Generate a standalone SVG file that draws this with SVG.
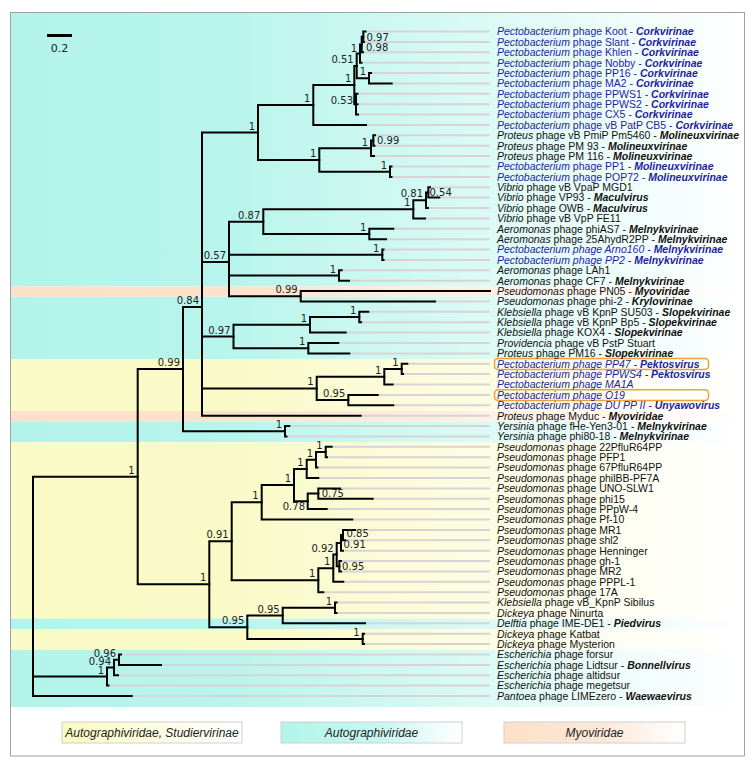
<svg xmlns="http://www.w3.org/2000/svg" width="755" height="768" viewBox="0 0 755 768">
<style>
.br{fill:none;stroke:#000;stroke-width:2;stroke-linecap:square}
.gd{fill:none;stroke:#d8d4d4;stroke-width:2}
.sup{font-family:"DejaVu Sans",sans-serif;font-size:10px;fill:#222;text-anchor:end}
.sup.r{text-anchor:start}
.lf{font-family:"Liberation Sans",Arial,sans-serif;font-size:10.5px;fill:#111}
.lf.b{fill:#1f1fa0}
.i{font-style:italic}
.t{font-style:italic;font-weight:bold}
.lg{font-family:"Liberation Sans",Arial,sans-serif;font-size:12px;font-style:italic;fill:#222;text-anchor:middle}
.hl{fill:none;stroke:#f0a040;stroke-width:1.5}
.lb{stroke:#d0d0d0;stroke-width:1}
</style>
<defs>
<linearGradient id="gc" gradientUnits="userSpaceOnUse" x1="11" y1="0" x2="742" y2="0"><stop offset="0" stop-color="#b3f4ea"/><stop offset="0.3" stop-color="#b8f5ec"/><stop offset="1" stop-color="#ffffff"/></linearGradient>
<linearGradient id="gy" gradientUnits="userSpaceOnUse" x1="11" y1="0" x2="742" y2="0"><stop offset="0" stop-color="#fafac6"/><stop offset="0.3" stop-color="#fafac8"/><stop offset="1" stop-color="#ffffff"/></linearGradient>
<linearGradient id="gp" gradientUnits="userSpaceOnUse" x1="11" y1="0" x2="742" y2="0"><stop offset="0" stop-color="#fde0c8"/><stop offset="0.3" stop-color="#fde2cb"/><stop offset="1" stop-color="#ffffff"/></linearGradient>
<linearGradient id="ly" x1="0" y1="0" x2="1" y2="0"><stop offset="0" stop-color="#fafac0"/><stop offset="0.35" stop-color="#fcfcd8"/><stop offset="1" stop-color="#ffffff"/></linearGradient>
<linearGradient id="lc" x1="0" y1="0" x2="1" y2="0"><stop offset="0" stop-color="#b3f4ea"/><stop offset="0.55" stop-color="#c8f7f0"/><stop offset="1" stop-color="#ffffff"/></linearGradient>
<linearGradient id="lp" x1="0" y1="0" x2="1" y2="0"><stop offset="0" stop-color="#fde0c8"/><stop offset="0.55" stop-color="#fde8d8"/><stop offset="1" stop-color="#ffffff"/></linearGradient>
</defs>
<rect x="0" y="0" width="755" height="768" fill="#fff"/>
<rect x="10.5" y="12.5" width="734" height="743.5" fill="#fff" stroke="#a0a0a0" stroke-width="1"/>
<g id="bands">
<rect x="11" y="13" width="731" height="273.4" fill="url(#gc)"/>
<rect x="11" y="286.4" width="731" height="10.4" fill="url(#gp)"/>
<rect x="11" y="296.8" width="731" height="62.3" fill="url(#gc)"/>
<rect x="11" y="359.1" width="731" height="51.9" fill="url(#gy)"/>
<rect x="11" y="411" width="731" height="10.4" fill="url(#gp)"/>
<rect x="11" y="421.4" width="731" height="20.7" fill="url(#gc)"/>
<rect x="11" y="442.1" width="731" height="176.5" fill="url(#gy)"/>
<rect x="11" y="618.6" width="731" height="10.4" fill="url(#gc)"/>
<rect x="11" y="629" width="731" height="20.8" fill="url(#gy)"/>
<rect x="11" y="649.8" width="731" height="57.2" fill="url(#gc)"/>
</g>
<g id="scale">
<line x1="47" y1="35.5" x2="72" y2="35.5" stroke="#000" stroke-width="3"/>
<text x="59.5" y="52" style="font-family:'DejaVu Sans',sans-serif;font-size:11px;fill:#222;text-anchor:middle">0.2</text>
</g>
<g id="guides" class="gd">
<path d="M366.5 31.5H490M365 41.9H490M364 52.3H490M362.5 62.7H490M372 73H490M392.7 83.4H490M358.5 93.8H490M358.5 104.2H490M359 114.6H490M367 124.9H490M376 135.3H490M375.5 145.7H490M375 156.1H490M392.5 166.5H490M392.5 176.9H490M431 187.2H490M440.3 197.6H490M429 208H490M426 218.4H490M394.3 228.8H490M387 239.2H490M384.5 249.5H490M384.5 259.9H490M342.7 270.3H490M350 280.7H490M436 301.5H490M369.3 311.8H490M362 322.2H490M346.7 332.6H490M339.3 343H490M350.3 353.4H490M408.3 363.8H490M404 374.1H490M393.7 384.5H490M378.7 394.9H490M394.3 405.3H490M361.7 415.7H490M290.3 426.1H490M287.5 436.4H490M332.7 446.8H490M328 457.2H490M318.5 467.6H490M319.3 478H490M341 488.4H490M373.7 498.7H490M327.7 509.1H490M353.3 519.5H490M356 529.9H490M346 540.3H490M344 550.7H490M342 561H490M342 571.4H490M344.3 581.8H490M324.3 592.2H490M337.5 602.6H490M337.5 612.9H490M366 623.3H490M365 633.7H490M365 644.1H490M122 654.5H490M162 664.9H490M119 675.2H490M109.5 685.6H490M132.7 696H490"/>
</g>
<g id="connectors" class="br">
<path d="M363.3 31.5V41.9M363.3 31.5H365.5M363.3 41.9H364"/>
<path d="M361.7 36.7V52.3M361.7 36.7H363.3M361.7 52.3H363"/>
<path d="M360 44.5V62.7M360 44.5H361.7M360 62.7H361.5"/>
<path d="M369 73V83.4M369 73H371M369 83.4H391.7"/>
<path d="M356.7 53.6V78.2M356.7 53.6H360M356.7 78.2H369"/>
<path d="M356 93.8V114.6M356 93.8H357.5M356 104.2H357.5M356 114.6H358"/>
<path d="M354.3 65.9V104.2M354.3 65.9H356.7M354.3 104.2H356"/>
<path d="M313.3 85.1V124.9M313.3 85.1H354.3M313.3 124.9H366"/>
<path d="M373.3 135.3V145.7M373.3 135.3H375M373.3 145.7H374.5"/>
<path d="M371 140.5V156.1M371 140.5H373.3M371 156.1H374"/>
<path d="M390 166.5V176.9M390 166.5H391.5M390 176.9H391.5"/>
<path d="M319.3 148.3V171.7M319.3 148.3H371M319.3 171.7H390"/>
<path d="M258 105V160M258 105H313.3M258 160H319.3"/>
<path d="M428.3 187.2V197.6M428.3 187.2H430M428.3 197.6H439.3"/>
<path d="M426 192.4V208M426 192.4H428.3M426 208H428"/>
<path d="M413.3 200.2V218.4M413.3 200.2H426M413.3 218.4H425"/>
<path d="M369.3 228.8V239.2M369.3 228.8H393.3M369.3 239.2H386"/>
<path d="M263.3 209.3V234M263.3 209.3H413.3M263.3 234H369.3"/>
<path d="M382.3 249.5V259.9M382.3 249.5H383.5M382.3 259.9H383.5"/>
<path d="M339 270.3V280.7M339 270.3H341.7M339 280.7H349"/>
<path d="M300.7 291.1V301.5M300.7 291.1H490M300.7 301.5H435"/>
<path d="M229 221.7V296.3M229 221.7H263.3M229 254.7H382.3M229 275.5H339M229 296.3H300.7"/>
<path d="M359.3 311.8V322.2M359.3 311.8H368.3M359.3 322.2H361"/>
<path d="M310 317V332.6M310 317H359.3M310 332.6H345.7"/>
<path d="M308.3 343V353.4M308.3 343H338.3M308.3 353.4H349.3"/>
<path d="M233.5 324.8V348.2M233.5 324.8H310M233.5 348.2H308.3"/>
<path d="M401.7 363.8V374.1M401.7 363.8H407.3M401.7 374.1H403"/>
<path d="M384.3 369V384.5M384.3 369H401.7M384.3 384.5H392.7"/>
<path d="M348.3 394.9V405.3M348.3 394.9H377.7M348.3 405.3H393.3"/>
<path d="M316.7 376.7V400.1M316.7 376.7H384.3M316.7 400.1H348.3"/>
<path d="M202 132.5V415.7M202 132.5H258M202 262H229M202 336.5H233.5M202 388.4H316.7M202 415.7H360.7"/>
<path d="M285 426.1V436.4M285 426.1H289.3M285 436.4H286.5"/>
<path d="M183 307V431.2M183 307H202M183 431.2H285"/>
<path d="M325.7 446.8V457.2M325.7 446.8H331.7M325.7 457.2H327"/>
<path d="M316 452V467.6M316 452H325.7M316 467.6H317.5"/>
<path d="M306.7 459.8V478M306.7 459.8H316M306.7 478H318.3"/>
<path d="M318.3 488.4V498.7M318.3 488.4H340M318.3 498.7H372.7"/>
<path d="M307.7 493.6V509.1M307.7 493.6H318.3M307.7 509.1H326.7"/>
<path d="M294 468.9V501.3M294 468.9H306.7M294 501.3H307.7"/>
<path d="M261.7 485.1V519.5M261.7 485.1H294M261.7 519.5H352.3"/>
<path d="M343 529.9V540.3M343 529.9H355M343 540.3H345"/>
<path d="M341 535.1V550.7M341 535.1H343M341 550.7H343"/>
<path d="M339.3 561V571.4M339.3 561H341M339.3 571.4H341"/>
<path d="M336.7 542.9V566.2M336.7 542.9H341M336.7 566.2H339.3"/>
<path d="M333.3 554.6V581.8M333.3 554.6H336.7M333.3 581.8H343.3"/>
<path d="M318.3 568.2V592.2M318.3 568.2H333.3M318.3 592.2H323.3"/>
<path d="M231.7 502.3V580.2M231.7 502.3H261.7M231.7 580.2H318.3"/>
<path d="M335 602.6V612.9M335 602.6H336.5M335 612.9H336.5"/>
<path d="M282.7 607.8V623.3M282.7 607.8H335M282.7 623.3H365"/>
<path d="M362.7 633.7V644.1M362.7 633.7H364M362.7 644.1H364"/>
<path d="M247.3 615.5V638.9M247.3 615.5H282.7M247.3 638.9H362.7"/>
<path d="M209.3 541.3V627.2M209.3 541.3H231.7M209.3 627.2H247.3"/>
<path d="M137.7 369.1V584.2M137.7 369.1H183M137.7 584.2H209.3"/>
<path d="M119 654.5V664.9M119 654.5H121M119 664.9H161"/>
<path d="M114 659.7V675.2M114 659.7H119M114 675.2H118"/>
<path d="M107 667.5V685.6M107 667.5H114M107 685.6H108.5"/>
<path d="M33 476.7V696M33 476.7H137.7M33 676.5H107M33 696H131.7"/>
</g>
<g id="support">
<g id="n-ClA"><text class="sup" x="134.7" y="473.7">1</text></g>
<g id="n-N099"><text class="sup" x="180" y="366.1">0.99</text></g>
<g id="n-N084"><text class="sup" x="199" y="304">0.84</text></g>
<g id="n-T"><text class="sup" x="255" y="129.5">1</text></g>
<g id="n-C1"><text class="sup" x="310.3" y="102">1</text></g>
<g id="n-C2"><text class="sup" x="351.3" y="82">1</text></g>
<g id="n-A"><text class="sup" x="353.7" y="63">0.51</text></g>
<g id="n-K3"><text class="sup" x="357" y="51.5">1</text></g>
<g id="n-K2"><text class="sup r" x="366" y="50.5">0.98</text></g>
<g id="n-K1"><text class="sup r" x="366.5" y="40.5">0.97</text></g>
<g id="n-P"><text class="sup" x="366" y="75">1</text></g>
<g id="n-X"><text class="sup" x="353" y="104">0.53</text></g>
<g id="n-M"><text class="sup" x="316.3" y="157">1</text></g>
<g id="n-M3"><text class="sup" x="368" y="145.5">1</text></g>
<g id="n-M31"><text class="sup r" x="377" y="144">0.99</text></g>
<g id="n-M2"><text class="sup" x="387" y="168.7">1</text></g>
<g id="n-N057"><text class="sup" x="226" y="259">0.57</text></g>
<g id="n-N087"><text class="sup" x="260.3" y="218.7">0.87</text></g>
<g id="n-V1"><text class="sup" x="410.3" y="206.3">1</text></g>
<g id="n-V2"><text class="sup" x="423" y="197.2">0.81</text></g>
<g id="n-V3"><text class="sup r" x="429.5" y="195.5">0.54</text></g>
<g id="n-Aer"><text class="sup" x="366.3" y="231">1</text></g>
<g id="n-Arno"><text class="sup" x="379.3" y="251.7">1</text></g>
<g id="n-LAh"><text class="sup" x="336" y="272.5">1</text></g>
<g id="n-N099a"><text class="sup" x="297.7" y="293.3">0.99</text></g>
<g id="n-N097"><text class="sup" x="230.5" y="333.5">0.97</text></g>
<g id="n-S1"><text class="sup" x="307" y="321.8">1</text></g>
<g id="n-S11"><text class="sup" x="356.3" y="314">1</text></g>
<g id="n-S2"><text class="sup" x="305.3" y="345.2">1</text></g>
<g id="n-PK"><text class="sup" x="313.7" y="385.4">1</text></g>
<g id="n-PK1"><text class="sup" x="381.3" y="373.7">1</text></g>
<g id="n-PK11"><text class="sup" x="398.7" y="366">1</text></g>
<g id="n-PK2"><text class="sup" x="345.3" y="397.1">0.95</text></g>
<g id="n-Yer"><text class="sup" x="282" y="428.2">1</text></g>
<g id="n-L"><text class="sup" x="206.3" y="581.2">1</text></g>
<g id="n-Ps"><text class="sup" x="228.7" y="538.3">0.91</text></g>
<g id="n-P1"><text class="sup" x="258.7" y="499.3">1</text></g>
<g id="n-P11"><text class="sup" x="291" y="482.1">1</text></g>
<g id="n-P111"><text class="sup" x="303.7" y="465.9">1</text></g>
<g id="n-P1111"><text class="sup" x="313" y="456.8">1</text></g>
<g id="n-P11111"><text class="sup" x="322.7" y="449">1</text></g>
<g id="n-N078"><text class="sup" x="305" y="510">0.78</text></g>
<g id="n-N075"><text class="sup r" x="321.7" y="497">0.75</text></g>
<g id="n-P2"><text class="sup" x="315.3" y="577.2">1</text></g>
<g id="n-P21"><text class="sup" x="330.3" y="565.2">1</text></g>
<g id="n-N092"><text class="sup" x="333.7" y="551.6">0.92</text></g>
<g id="n-N085"><text class="sup r" x="346.5" y="537">0.85</text></g>
<g id="n-N091"><text class="sup r" x="343.5" y="548">0.91</text></g>
<g id="n-N095"><text class="sup r" x="342" y="569.5">0.95</text></g>
<g id="n-D"><text class="sup" x="244.3" y="624.2">0.95</text></g>
<g id="n-D1"><text class="sup" x="279.7" y="612.5">0.95</text></g>
<g id="n-D11"><text class="sup" x="332" y="604.8">1</text></g>
<g id="n-D2"><text class="sup" x="359.7" y="635.9">1</text></g>
<g id="n-E3"><text class="sup" x="116" y="656.7">0.96</text></g>
<g id="n-E2"><text class="sup" x="111" y="664.5">0.94</text></g>
<g id="n-E1"><text class="sup" x="104" y="673.5">1</text></g>
</g>
<g id="highlights">
<rect class="hl" x="494.5" y="358.6" width="214" height="10.8" rx="3.5"/>
<rect class="hl" x="494.5" y="389.7" width="214" height="10.8" rx="3.5"/>
</g>
<g id="leaves">
<g id="leaf-Koot"><text class="lf b" x="497" y="35.3"><tspan class="i">Pectobacterium</tspan> phage Koot - <tspan class="t">Corkvirinae</tspan></text></g>
<g id="leaf-Slant"><text class="lf b" x="497" y="45.7"><tspan class="i">Pectobacterium</tspan> phage Slant - <tspan class="t">Corkvirinae</tspan></text></g>
<g id="leaf-Khlen"><text class="lf b" x="497" y="56.1"><tspan class="i">Pectobacterium</tspan> phage Khlen - <tspan class="t">Corkvirinae</tspan></text></g>
<g id="leaf-Nobby"><text class="lf b" x="497" y="66.5"><tspan class="i">Pectobacterium</tspan> phage Nobby - <tspan class="t">Corkvirinae</tspan></text></g>
<g id="leaf-PP16"><text class="lf b" x="497" y="76.8"><tspan class="i">Pectobacterium</tspan> phage PP16 - <tspan class="t">Corkvirinae</tspan></text></g>
<g id="leaf-MA2"><text class="lf b" x="497" y="87.2"><tspan class="i">Pectobacterium</tspan> phage MA2 - <tspan class="t">Corkvirinae</tspan></text></g>
<g id="leaf-PPWS1"><text class="lf b" x="497" y="97.6"><tspan class="i">Pectobacterium</tspan> phage PPWS1 - <tspan class="t">Corkvirinae</tspan></text></g>
<g id="leaf-PPWS2"><text class="lf b" x="497" y="108"><tspan class="i">Pectobacterium</tspan> phage PPWS2 - <tspan class="t">Corkvirinae</tspan></text></g>
<g id="leaf-CX5"><text class="lf b" x="497" y="118.4"><tspan class="i">Pectobacterium</tspan> phage CX5 - <tspan class="t">Corkvirinae</tspan></text></g>
<g id="leaf-CB5"><text class="lf b" x="497" y="128.7"><tspan class="i">Pectobacterium</tspan> phage vB PatP CB5 - <tspan class="t">Corkvirinae</tspan></text></g>
<g id="leaf-Pm5460"><text class="lf" x="497" y="139.1"><tspan class="i">Proteus</tspan> phage vB PmiP Pm5460 - <tspan class="t">Molineuxvirinae</tspan></text></g>
<g id="leaf-PM93"><text class="lf" x="497" y="149.5"><tspan class="i">Proteus</tspan> phage PM 93 - <tspan class="t">Molineuxvirinae</tspan></text></g>
<g id="leaf-PM116"><text class="lf" x="497" y="159.9"><tspan class="i">Proteus</tspan> phage PM 116 - <tspan class="t">Molineuxvirinae</tspan></text></g>
<g id="leaf-PP1"><text class="lf b" x="497" y="170.3"><tspan class="i">Pectobacterium</tspan> phage PP1 - <tspan class="t">Molineuxvirinae</tspan></text></g>
<g id="leaf-POP72"><text class="lf b" x="497" y="180.7"><tspan class="i">Pectobacterium</tspan> phage POP72 - <tspan class="t">Molineuxvirinae</tspan></text></g>
<g id="leaf-MGD1"><text class="lf" x="497" y="191"><tspan class="i">Vibrio</tspan> phage vB VpaP MGD1</text></g>
<g id="leaf-VP93"><text class="lf" x="497" y="201.4"><tspan class="i">Vibrio</tspan> phage VP93 - <tspan class="t">Maculvirus</tspan></text></g>
<g id="leaf-OWB"><text class="lf" x="497" y="211.8"><tspan class="i">Vibrio</tspan> phage OWB - <tspan class="t">Maculvirus</tspan></text></g>
<g id="leaf-FE11"><text class="lf" x="497" y="222.2"><tspan class="i">Vibrio</tspan> phage vB VpP FE11</text></g>
<g id="leaf-phiAS7"><text class="lf" x="497" y="232.6"><tspan class="i">Aeromonas</tspan> phage phiAS7 - <tspan class="t">Melnykvirinae</tspan></text></g>
<g id="leaf-25Ahyd"><text class="lf" x="497" y="243"><tspan class="i">Aeromonas</tspan> phage 25AhydR2PP - <tspan class="t">Melnykvirinae</tspan></text></g>
<g id="leaf-Arno160"><text class="lf b i" x="497" y="253.3">Pectobacterium phage Arno160 - <tspan class="t">Melnykvirinae</tspan></text></g>
<g id="leaf-PP2"><text class="lf b i" x="497" y="263.7">Pectobacterium phage PP2 - <tspan class="t">Melnykvirinae</tspan></text></g>
<g id="leaf-LAh1"><text class="lf" x="497" y="274.1"><tspan class="i">Aeromonas</tspan> phage LAh1</text></g>
<g id="leaf-CF7"><text class="lf" x="497" y="284.5"><tspan class="i">Aeromonas</tspan> phage CF7 - <tspan class="t">Melnykvirinae</tspan></text></g>
<g id="leaf-PN05"><text class="lf" x="497" y="294.9"><tspan class="i">Pseudomonas</tspan> phage PN05 - <tspan class="t">Myoviridae</tspan></text></g>
<g id="leaf-phi2"><text class="lf" x="497" y="305.3"><tspan class="i">Pseudomonas</tspan> phage phi-2 - <tspan class="t">Krylovirinae</tspan></text></g>
<g id="leaf-SU503"><text class="lf" x="497" y="315.6"><tspan class="i">Klebsiella</tspan> phage vB KpnP SU503 - <tspan class="t">Slopekvirinae</tspan></text></g>
<g id="leaf-Bp5"><text class="lf" x="497" y="326"><tspan class="i">Klebsiella</tspan> phage vB KpnP Bp5 - <tspan class="t">Slopekvirinae</tspan></text></g>
<g id="leaf-KOX4"><text class="lf" x="497" y="336.4"><tspan class="i">Klebsiella</tspan> phage KOX4 - <tspan class="t">Slopekvirinae</tspan></text></g>
<g id="leaf-Stuart"><text class="lf" x="497" y="346.8"><tspan class="i">Providencia</tspan> phage vB PstP Stuart</text></g>
<g id="leaf-PM16"><text class="lf" x="497" y="357.2"><tspan class="i">Proteus</tspan> phage PM16 - <tspan class="t">Slopekvirinae</tspan></text></g>
<g id="leaf-PP47"><text class="lf b i" x="497" y="367.6">Pectobacterium phage PP47 - <tspan class="t">Pektosvirus</tspan></text></g>
<g id="leaf-PPWS4"><text class="lf b i" x="497" y="377.9">Pectobacterium phage PPWS4 - <tspan class="t">Pektosvirus</tspan></text></g>
<g id="leaf-MA1A"><text class="lf b i" x="497" y="388.3">Pectobacterium phage MA1A</text></g>
<g id="leaf-O19"><text class="lf b i" x="497" y="398.7">Pectobacterium phage O19</text></g>
<g id="leaf-DUPPII"><text class="lf b i" x="497" y="409.1">Pectobacterium phage DU PP II - <tspan class="t">Unyawovirus</tspan></text></g>
<g id="leaf-Myduc"><text class="lf" x="497" y="419.5"><tspan class="i">Proteus</tspan> phage Myduc - <tspan class="t">Myoviridae</tspan></text></g>
<g id="leaf-fHe"><text class="lf" x="497" y="429.9"><tspan class="i">Yersinia</tspan> phage fHe-Yen3-01 - <tspan class="t">Melnykvirinae</tspan></text></g>
<g id="leaf-phi80"><text class="lf" x="497" y="440.2"><tspan class="i">Yersinia</tspan> phage phi80-18 - <tspan class="t">Melnykvirinae</tspan></text></g>
<g id="leaf-22Pflu"><text class="lf" x="497" y="450.6"><tspan class="i">Pseudomonas</tspan> phage 22PfluR64PP</text></g>
<g id="leaf-PFP1"><text class="lf" x="497" y="461"><tspan class="i">Pseudomonas</tspan> phage PFP1</text></g>
<g id="leaf-67Pflu"><text class="lf" x="497" y="471.4"><tspan class="i">Pseudomonas</tspan> phage 67PfluR64PP</text></g>
<g id="leaf-philBB"><text class="lf" x="497" y="481.8"><tspan class="i">Pseudomonas</tspan> phage philBB-PF7A</text></g>
<g id="leaf-UNO"><text class="lf" x="497" y="492.2"><tspan class="i">Pseudomonas</tspan> phage UNO-SLW1</text></g>
<g id="leaf-phi15"><text class="lf" x="497" y="502.5"><tspan class="i">Pseudomonas</tspan> phage phi15</text></g>
<g id="leaf-PPpW4"><text class="lf" x="497" y="512.9"><tspan class="i">Pseudomonas</tspan> phage PPpW-4</text></g>
<g id="leaf-Pf10"><text class="lf" x="497" y="523.3"><tspan class="i">Pseudomonas</tspan> phage Pf-10</text></g>
<g id="leaf-MR1"><text class="lf" x="497" y="533.7"><tspan class="i">Pseudomonas</tspan> phage MR1</text></g>
<g id="leaf-shl2"><text class="lf" x="497" y="544.1"><tspan class="i">Pseudomonas</tspan> phage shl2</text></g>
<g id="leaf-Henninger"><text class="lf" x="497" y="554.5"><tspan class="i">Pseudomonas</tspan> phage Henninger</text></g>
<g id="leaf-gh1"><text class="lf" x="497" y="564.8"><tspan class="i">Pseudomonas</tspan> phage gh-1</text></g>
<g id="leaf-MR2"><text class="lf" x="497" y="575.2"><tspan class="i">Pseudomonas</tspan> phage MR2</text></g>
<g id="leaf-PPPL1"><text class="lf" x="497" y="585.6"><tspan class="i">Pseudomonas</tspan> phage PPPL-1</text></g>
<g id="leaf-17A"><text class="lf" x="497" y="596"><tspan class="i">Pseudomonas</tspan> phage 17A</text></g>
<g id="leaf-Sibilus"><text class="lf" x="497" y="606.4"><tspan class="i">Klebsiella</tspan> phage vB_KpnP Sibilus</text></g>
<g id="leaf-Ninurta"><text class="lf" x="497" y="616.8"><tspan class="i">Dickeya</tspan> phage Ninurta</text></g>
<g id="leaf-IMEDE1"><text class="lf" x="497" y="627.1"><tspan class="i">Delftia</tspan> phage IME-DE1 - <tspan class="t">Piedvirus</tspan></text></g>
<g id="leaf-Katbat"><text class="lf" x="497" y="637.5"><tspan class="i">Dickeya</tspan> phage Katbat</text></g>
<g id="leaf-Mysterion"><text class="lf" x="497" y="647.9"><tspan class="i">Dickeya</tspan> phage Mysterion</text></g>
<g id="leaf-forsur"><text class="lf" x="497" y="658.3"><tspan class="i">Escherichia</tspan> phage forsur</text></g>
<g id="leaf-Lidtsur"><text class="lf" x="497" y="668.7"><tspan class="i">Escherichia</tspan> phage Lidtsur - <tspan class="t">Bonnellvirus</tspan></text></g>
<g id="leaf-altidsur"><text class="lf" x="497" y="679"><tspan class="i">Escherichia</tspan> phage altidsur</text></g>
<g id="leaf-megetsur"><text class="lf" x="497" y="689.4"><tspan class="i">Escherichia</tspan> phage megetsur</text></g>
<g id="leaf-LIMEzero"><text class="lf" x="497" y="699.8"><tspan class="i">Pantoea</tspan> phage LIMEzero - <tspan class="t">Waewaevirus</tspan></text></g>
</g>
<g id="legend">
<g id="legend-studier"><rect class="lb" x="62" y="722" width="180" height="21" fill="url(#ly)"/><text class="lg" x="152" y="736.5">Autographiviridae, Studiervirinae</text></g>
<g id="legend-autographi"><rect class="lb" x="281" y="722" width="181" height="21" fill="url(#lc)"/><text class="lg" x="371.5" y="736.5">Autographiviridae</text></g>
<g id="legend-myo"><rect class="lb" x="504" y="722" width="181" height="21" fill="url(#lp)"/><text class="lg" x="594.5" y="736.5">Myoviridae</text></g>
</g>
</svg>
